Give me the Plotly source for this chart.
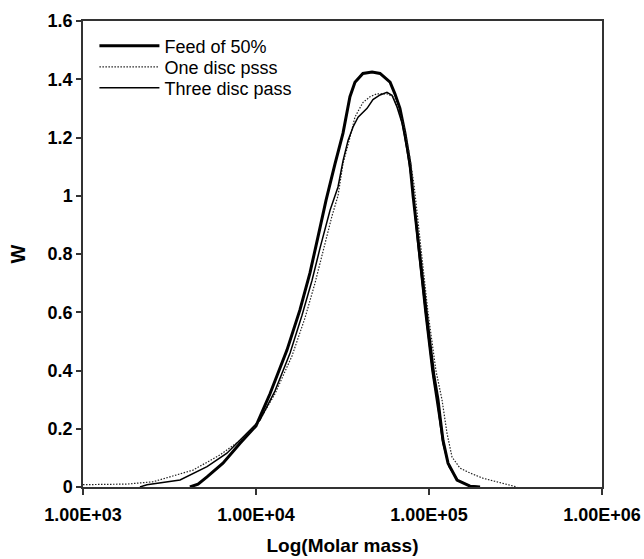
import plotly.graph_objects as go

# Log10(molar mass) and W values
feed_logm = [3.618, 3.665, 3.717, 3.809, 3.908, 4.0, 4.081, 4.179, 4.254, 4.312, 4.358,
             4.405, 4.457, 4.503, 4.543, 4.572, 4.618, 4.671, 4.717, 4.775, 4.803, 4.832,
             4.861, 4.890, 4.908, 4.948, 4.994, 5.029, 5.052, 5.064, 5.081, 5.110, 5.162,
             5.237, 5.295]
feed_w = [0.0, 0.01, 0.035, 0.082, 0.15, 0.21, 0.32, 0.47, 0.608, 0.735, 0.858,
          0.985, 1.11, 1.215, 1.34, 1.39, 1.42, 1.425, 1.42, 1.39, 1.35, 1.30,
          1.215, 1.11, 1.0, 0.78, 0.55, 0.38, 0.30, 0.24, 0.16, 0.082, 0.024,
          0.003, 0.0]

one_logm = [3.0, 3.254, 3.405, 3.561, 3.636, 3.792, 3.908, 4.012, 4.11, 4.208, 4.283,
            4.341, 4.387, 4.439, 4.474, 4.503, 4.543, 4.572, 4.59, 4.618, 4.659, 4.699,
            4.757, 4.792, 4.821, 4.855, 4.884, 4.913, 4.948, 4.994, 5.04, 5.075, 5.104,
            5.133, 5.179, 5.237, 5.312, 5.41, 5.509]
one_w = [0.008, 0.01, 0.018, 0.045, 0.058, 0.11, 0.16, 0.22, 0.32, 0.45, 0.58,
         0.70, 0.81, 0.93, 1.0, 1.11, 1.20, 1.27, 1.29, 1.32, 1.34, 1.35,
         1.35, 1.34, 1.30, 1.24, 1.15, 1.04, 0.85, 0.6, 0.4, 0.30, 0.185,
         0.103, 0.065, 0.048, 0.03, 0.014, 0.0]

three_logm = [3.329, 3.37, 3.561, 3.717, 3.832, 3.925, 4.023, 4.11, 4.197, 4.266, 4.324,
              4.37, 4.428, 4.474, 4.503, 4.532, 4.561, 4.59, 4.642, 4.676, 4.717, 4.757,
              4.786, 4.815, 4.844, 4.873, 4.902, 4.936, 4.977, 5.017, 5.052, 5.081, 5.116,
              5.168, 5.237, 5.295]
three_w = [0.0, 0.008, 0.024, 0.07, 0.116, 0.17, 0.23, 0.33, 0.46, 0.59, 0.71,
           0.82, 0.95, 1.03, 1.12, 1.19, 1.236, 1.27, 1.30, 1.33, 1.346, 1.355,
           1.345, 1.305, 1.25, 1.157, 1.044, 0.83, 0.6, 0.40, 0.26, 0.15, 0.07,
           0.022, 0.004, 0.0]

series_names = ["Feed of 50%", "One disc psss", "Three disc pass"]

x_tick_vals = [1e3, 1e4, 1e5, 1e6]
x_tick_text = ["1.00E+03", "1.00E+04", "1.00E+05", "1.00E+06"]
y_tick_vals = [0, 0.2, 0.4, 0.6, 0.8, 1, 1.2, 1.4, 1.6]
y_tick_text = ["0", "0.2", "0.4", "0.6", "0.8", "1", "1.2", "1.4", "1.6"]

FONT = "Liberation Sans, Arial, sans-serif"

fig = go.Figure()
fig.add_trace(go.Scatter(x=[10 ** v for v in feed_logm], y=feed_w, mode="lines",
                         name=series_names[0], legend="legend",
                         line=dict(color="black", width=3)))
fig.add_trace(go.Scatter(x=[10 ** v for v in one_logm], y=one_w, mode="lines",
                         name=series_names[1], legend="legend2",
                         line=dict(color="#222", width=1.2, dash="1.5px,1.5px")))
fig.add_trace(go.Scatter(x=[10 ** v for v in three_logm], y=three_w, mode="lines",
                         name=series_names[2], legend="legend3",
                         line=dict(color="black", width=1.5)))

def leg(yc):
    return dict(x=0.022, y=yc, xanchor="left", yanchor="middle",
                font=dict(family=FONT, size=18, color="black"),
                bgcolor="rgba(0,0,0,0)", itemwidth=60)

fig.update_layout(
    width=644, height=559,
    margin=dict(l=83, r=42, t=21, b=72, autoexpand=False),
    paper_bgcolor="white", plot_bgcolor="white",
    font=dict(family=FONT, color="black"),
    showlegend=True,
    legend=leg(0.946),
    legend2=leg(0.901),
    legend3=leg(0.856),
    xaxis=dict(type="log", range=[3, 6], tickvals=x_tick_vals, ticktext=x_tick_text,
               ticks="outside", ticklen=6, tickwidth=1.5, tickcolor="#333",
               showline=True, linecolor="#333", linewidth=1.5, mirror=True,
               showgrid=False, zeroline=False, ticklabelstandoff=5, automargin=False,
               tickfont=dict(family=FONT, size=18, weight="bold"),
               title=dict(text="Log(Molar mass)", font=dict(family=FONT, size=19, weight="bold"),
                          standoff=14)),
    yaxis=dict(range=[0, 1.6], tickvals=y_tick_vals, ticktext=y_tick_text,
               ticks="outside", ticklen=5, tickwidth=1.5, tickcolor="#333",
               showline=True, linecolor="#333", linewidth=1.5, mirror=True,
               showgrid=False, zeroline=False, automargin=False,
               tickfont=dict(family=FONT, size=18, weight="bold"),
               title=dict(text="W", font=dict(family=FONT, size=20, weight="bold"), standoff=17)),
)

fig.write_html("out.html")
